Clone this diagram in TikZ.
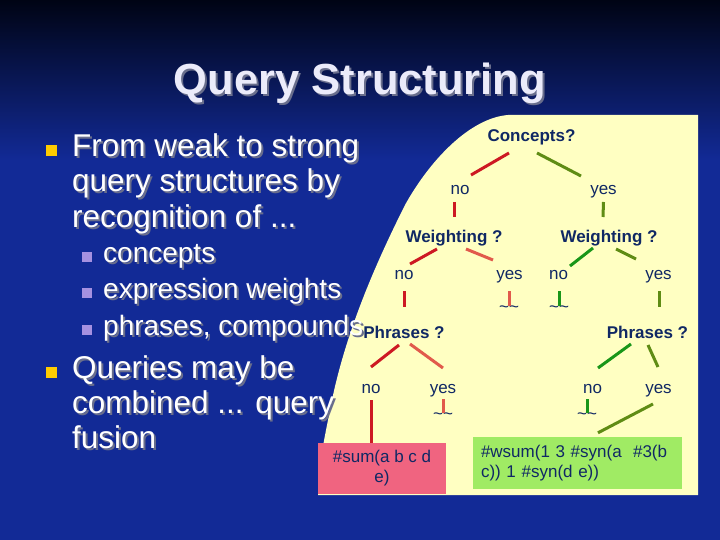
\documentclass[tikz,border=0pt]{standalone}
\usepackage{fontspec}
\setmainfont{Liberation Sans}
\usetikzlibrary{calc}
\definecolor{bgtop}{RGB}{0,4,20}
\definecolor{bgblue}{RGB}{18,42,150}
\definecolor{paper}{RGB}{255,255,194}
\definecolor{navy}{RGB}{16,40,100}
\definecolor{nored}{RGB}{205,25,35}
\definecolor{nosalmon}{RGB}{225,90,75}
\definecolor{yesgreen}{RGB}{25,150,25}
\definecolor{yesolive}{RGB}{95,140,20}
\definecolor{sumpink}{RGB}{240,100,128}
\definecolor{wsumgreen}{RGB}{160,235,100}
\definecolor{bulletyellow}{RGB}{255,204,0}
\definecolor{bulletlilac}{RGB}{165,145,225}
\definecolor{shadowgray}{RGB}{105,110,140}
\definecolor{titlewhite}{RGB}{235,235,250}
\newcommand{\ellip}{...}
% white text with a grey drop shadow, in one box
\newcommand{\shadowed}[1]{\rlap{\hspace{2pt}\raisebox{-2pt}{\textcolor{shadowgray}{#1}}}#1}

\begin{document}
\begin{tikzpicture}[x=1pt, y=-1pt,
    heading/.style={anchor=base, inner sep=0, text=titlewhite, font=\fontsize{43.5}{43.5}\selectfont\bfseries},
    point/.style={anchor=base west, inner sep=0, text=white, font=\fontsize{31.5}{31.5}\selectfont},
    subpoint/.style={anchor=base west, inner sep=0, text=white, font=\fontsize{28}{28}\selectfont},
    mainbullet/.style={rectangle, fill=bulletyellow, minimum size=11pt, inner sep=0},
    subbullet/.style={rectangle, fill=bulletlilac, minimum size=10pt, inner sep=0},
    question/.style={anchor=base, inner sep=0, text=navy, font=\fontsize{17}{17}\selectfont\bfseries},
    answer/.style={anchor=base, inner sep=0, text=navy, font=\fontsize{17}{17}\selectfont},
    wave/.style={anchor=north, inner sep=0, text=navy, font=\fontsize{17}{17}\selectfont},
    result/.style={rectangle, text=navy, font=\fontsize{17}{20}\selectfont},
    branch/.style={line width=3pt}
]
\useasboundingbox (0,0) rectangle (720,540);
% Background
\fill[bgblue] (0,0) rectangle (720,540);
\shade[top color=bgtop, bottom color=bgblue] (0,0) rectangle (720,160);
% Yellow sheet
\fill[paper] (698,115) -- (508,115) .. controls (470,118) and (430,160) .. (405,205)
    .. controls (380,255) and (345,330) .. (330,410)
    .. controls (322,450) and (318,470) .. (318,495) -- (698,495) -- cycle;
% Title
\node[heading] (title) at (360,95) {\shadowed{Query Structuring}};
% Bullets
\node[mainbullet] (b1) at (51.5,151) {};
\node[subbullet] (s1) at (86.5,256.5) {};
\node[subbullet] (s2) at (86.5,292.5) {};
\node[subbullet] (s3) at (86.5,329.5) {};
\node[mainbullet] (b2) at (51.5,372) {};
% Bullet text
\foreach \name/\sty/\x/\y/\txt in {
    from/point/72/157/From weak to strong,
    struct/point/72/192/query structures by,
    recog/point/72/227/{recognition of \ellip},
    concepts/subpoint/103/262/concepts,
    weights/subpoint/103/298/expression weights,
    phrases/subpoint/103/335/{phrases, compounds},
    queries/point/72/378/Queries may be,
    combined/point/72/413/{combined \ellip{} query},
    fusion/point/72/448/fusion}{
  \node[\sty] (\name) at (\x,\y) {\shadowed{\txt}};
}
% Decision tree
\node[question] (concepts) at (531.5,142) {Concepts?};
\node[answer] (cno) at (460,195) {no};
\node[answer] (cyes) at (603.5,195) {yes};
\node[question] (wno) at (454,243) {Weighting ?};
\node[question] (wyes) at (609,243) {Weighting ?};
\node[answer] (wnono) at (404,279) {no};
\node[answer] (wnoyes) at (509.5,279) {yes};
\node[answer] (wyesno) at (558.5,279) {no};
\node[answer] (wyesyes) at (658.5,279) {yes};
\node[question] (pno) at (404,338) {Phrases ?};
\node[question] (pyes) at (647.5,338) {Phrases ?};
\node[answer] (pnono) at (371,393) {no};
\node[answer] (pnoyes) at (443,393) {yes};
\node[answer] (pyesno) at (592.5,393) {no};
\node[answer] (pyesyes) at (658.5,393) {yes};
\node[wave] (wave1) at (509,306) {\textasciitilde\textasciitilde};
\node[wave] (wave2) at (559,306) {\textasciitilde\textasciitilde};
\node[wave] (wave3) at (443,413) {\textasciitilde\textasciitilde};
\node[wave] (wave4) at (587,413) {\textasciitilde\textasciitilde};
% Resulting queries
\node[result, fill=sumpink, minimum width=128pt, minimum height=51pt, align=center] (sum) at (382,468.5) {\#sum(a b c d\\e)};
\node[result, fill=wsumgreen, minimum width=209pt, minimum height=52pt, text width=193pt, align=left] (wsum) at (577.5,463) {\#wsum(1 3 \#syn(a\ \ \#3(b\\c)) 1 \#syn(d e))};
% Branches
\draw[branch, nored] ([shift={(-22.5,11)}]concepts.base) -- ([shift={(11,-20)}]cno.base);
\draw[branch, yesolive] ([shift={(5.5,11)}]concepts.base) -- ([shift={(-22.5,-19)}]cyes.base);
\draw[branch, nored] ([shift={(-6,7)}]cno.base) -- ([shift={(0,-26)}]wno.base);
\draw[branch, yesolive] ([shift={(0,7)}]cyes.base) -- ([shift={(-6,-26)}]wyes.base);
\draw[branch, nored] ([shift={(-17,6)}]wno.base) -- ([shift={(6,-15)}]wnono.base);
\draw[branch, nosalmon] ([shift={(12,6)}]wno.base) -- ([shift={(-16.5,-19)}]wnoyes.base);
\draw[branch, yesgreen] ([shift={(-16,5)}]wyes.base) -- ([shift={(11.5,-13)}]wyesno.base);
\draw[branch, yesolive] ([shift={(7,6)}]wyes.base) -- ([shift={(-22.5,-20)}]wyesyes.base);
\draw[branch, nored] ([shift={(0,12)}]wnono.base) -- ([shift={(0,-31)}]pno.base);
\draw[branch, nosalmon] ([shift={(-0.5,12)}]wnoyes.base) -- (wave1.north);
\draw[branch, yesgreen] ([shift={(0.5,12)}]wyesno.base) -- (wave2.north);
\draw[branch, yesolive] ([shift={(0.5,12)}]wyesyes.base) -- ([shift={(11.5,-31)}]pyes.base);
\draw[branch, nored] ([shift={(-5,7)}]pno.base) -- ([shift={(0,-26)}]pnono.base);
\draw[branch, nosalmon] ([shift={(6,6)}]pno.base) -- ([shift={(0,-25)}]pnoyes.base);
\draw[branch, yesgreen] ([shift={(-16.5,6)}]pyes.base) -- ([shift={(5.5,-25)}]pyesno.base);
\draw[branch, yesolive] ([shift={(0.5,7)}]pyes.base) -- ([shift={(-0.5,-26)}]pyesyes.base);
\draw[branch, nored] ([shift={(0,7)}]pnono.base) -- (pnono.base |- sum.north);
\draw[branch, nosalmon] ([shift={(0,6)}]pnoyes.base) -- (wave3.north);
\draw[branch, yesgreen] ([shift={(-5.5,6)}]pyesno.base) -- (wave4.north);
\draw[branch, yesolive] ([shift={(-5.5,11)}]pyesyes.base) -- ([shift={(20.5,-4)}]wsum.north);
\end{tikzpicture}
\end{document}
